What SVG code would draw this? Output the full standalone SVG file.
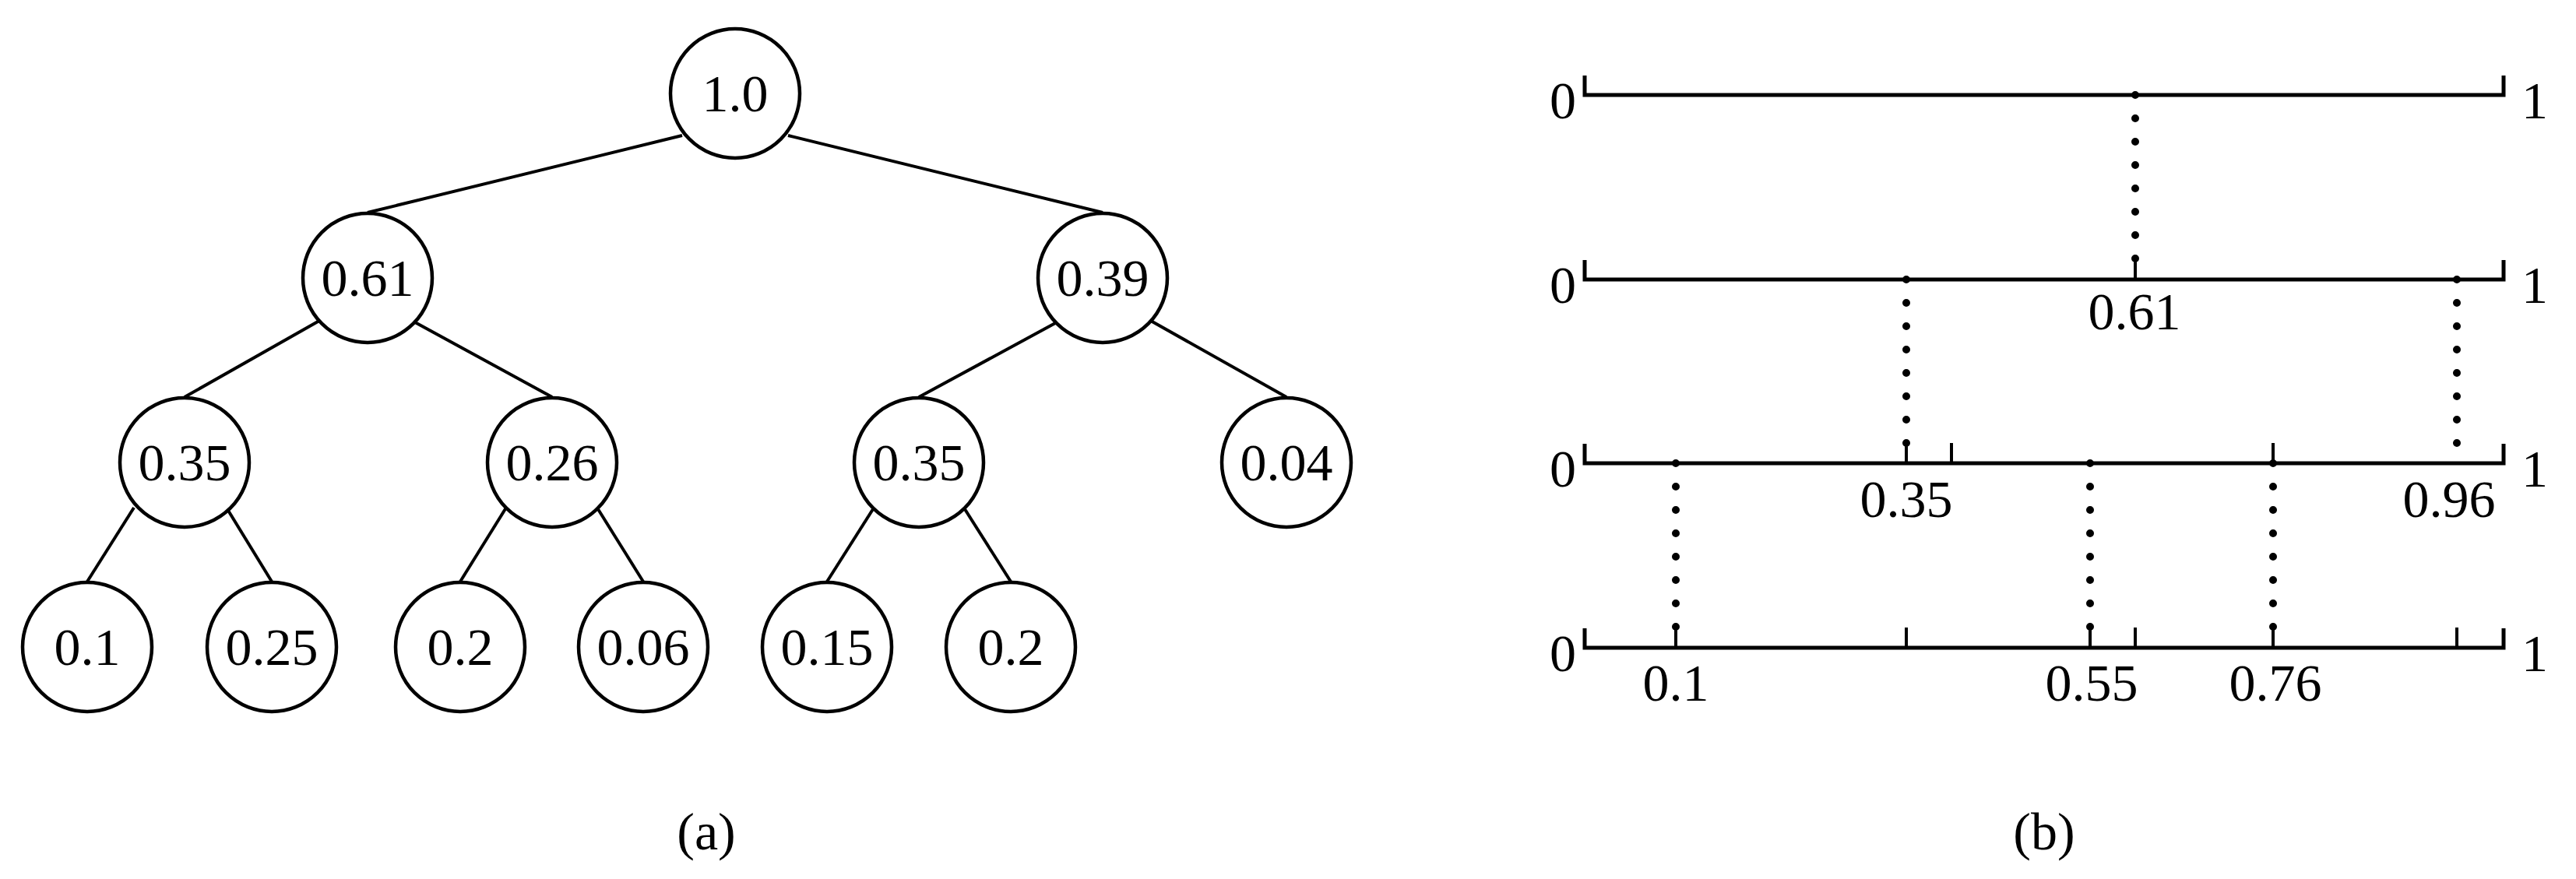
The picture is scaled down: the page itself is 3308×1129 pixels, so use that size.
<svg xmlns="http://www.w3.org/2000/svg" width="3308" height="1129" viewBox="0 0 3308 1129">
<style>
.nd circle{fill:#fff;stroke:#000;stroke-width:4.5}
text{font-family:"Liberation Serif","Times New Roman",serif;font-size:68px;fill:#000}
.nd text{text-anchor:middle}
.lbl{text-anchor:middle}
.edge{stroke:#000;stroke-width:4;fill:none}
.axis{stroke:#000;stroke-width:5;fill:none;stroke-linejoin:miter;stroke-linecap:butt}
.tick{stroke:#000;stroke-width:4}
.dots{stroke:#000;stroke-width:10;stroke-linecap:round;stroke-dasharray:0 30}
</style>
<rect width="3308" height="1129" fill="#fff"/>
<g id="connectors">
<line class="edge" x1="876" y1="174" x2="472" y2="273"/>
<line class="edge" x1="1012" y1="174" x2="1416" y2="273"/>
<line class="edge" x1="410" y1="412" x2="237" y2="510"/>
<line class="edge" x1="533" y1="414" x2="709" y2="510"/>
<line class="edge" x1="1357" y1="414" x2="1180" y2="510"/>
<line class="edge" x1="1476" y1="411" x2="1652" y2="510"/>
<line class="edge" x1="172" y1="652" x2="112" y2="747"/>
<line class="edge" x1="292" y1="654" x2="349" y2="747"/>
<line class="edge" x1="650" y1="652" x2="591" y2="747"/>
<line class="edge" x1="768" y1="654" x2="826" y2="747"/>
<line class="edge" x1="1121" y1="654" x2="1062" y2="747"/>
<line class="edge" x1="1239" y1="654" x2="1298" y2="747"/>
</g>
<g id="n1" class="nd"><circle cx="944" cy="120" r="83"/><text x="944" y="143">1.0</text></g>
<g id="n2" class="nd"><circle cx="472" cy="357" r="83"/><text x="472" y="380">0.61</text></g>
<g id="n3" class="nd"><circle cx="1416" cy="357" r="83"/><text x="1416" y="380">0.39</text></g>
<g id="n4" class="nd"><circle cx="237" cy="594" r="83"/><text x="237" y="617">0.35</text></g>
<g id="n5" class="nd"><circle cx="709" cy="594" r="83"/><text x="709" y="617">0.26</text></g>
<g id="n6" class="nd"><circle cx="1180" cy="594" r="83"/><text x="1180" y="617">0.35</text></g>
<g id="n7" class="nd"><circle cx="1652" cy="594" r="83"/><text x="1652" y="617">0.04</text></g>
<g id="n8" class="nd"><circle cx="112" cy="831" r="83"/><text x="112" y="854">0.1</text></g>
<g id="n9" class="nd"><circle cx="349" cy="831" r="83"/><text x="349" y="854">0.25</text></g>
<g id="n10" class="nd"><circle cx="591" cy="831" r="83"/><text x="591" y="854">0.2</text></g>
<g id="n11" class="nd"><circle cx="826" cy="831" r="83"/><text x="826" y="854">0.06</text></g>
<g id="n12" class="nd"><circle cx="1062" cy="831" r="83"/><text x="1062" y="854">0.15</text></g>
<g id="n13" class="nd"><circle cx="1298" cy="831" r="83"/><text x="1298" y="854">0.2</text></g>
<text class="lbl" x="907" y="1091">(a)</text>

<g id="intervals">
<path class="axis" d="M2035 97V122H3215V97"/>
<path class="axis" d="M2035 334V359H3215V334"/>
<path class="axis" d="M2035 570V595H3215V570"/>
<path class="axis" d="M2035 807V832H3215V807"/>
<text x="1990" y="152">0</text><text x="3238" y="152">1</text>
<text x="1990" y="389">0</text><text x="3238" y="389">1</text>
<text x="1990" y="625">0</text><text x="3238" y="625">1</text>
<text x="1990" y="862">0</text><text x="3238" y="862">1</text>
<!-- level 1 to 2 -->
<line class="dots" x1="2742" y1="122" x2="2742" y2="332.5"/>
<line class="tick" x1="2742" y1="332" x2="2742" y2="359"/>
<!-- level 2 to 3 -->
<line class="dots" x1="2448" y1="359" x2="2448" y2="569.5"/>
<line class="tick" x1="2448" y1="569" x2="2448" y2="595"/>
<line class="dots" x1="3155" y1="359" x2="3155" y2="569.5"/>
<line class="tick" x1="2506" y1="569" x2="2506" y2="595"/>
<line class="tick" x1="2919" y1="569" x2="2919" y2="595"/>
<!-- level 3 to 4 -->
<line class="dots" x1="2152" y1="595" x2="2152" y2="805.5"/>
<line class="tick" x1="2152" y1="805" x2="2152" y2="832"/>
<line class="dots" x1="2684" y1="595" x2="2684" y2="805.5"/>
<line class="tick" x1="2684" y1="805" x2="2684" y2="832"/>
<line class="dots" x1="2919" y1="595" x2="2919" y2="805.5"/>
<line class="tick" x1="2919" y1="805" x2="2919" y2="832"/>
<line class="tick" x1="2448" y1="806" x2="2448" y2="832"/>
<line class="tick" x1="2742" y1="806" x2="2742" y2="832"/>
<line class="tick" x1="3155" y1="806" x2="3155" y2="832"/>
<text class="lbl" x="2741" y="423">0.61</text>
<text class="lbl" x="2448" y="664">0.35</text>
<text class="lbl" x="3145" y="664">0.96</text>
<text class="lbl" x="2152" y="900">0.1</text>
<text class="lbl" x="2686" y="900">0.55</text>
<text class="lbl" x="2922" y="900">0.76</text>
</g>
<text class="lbl" x="2625" y="1091">(b)</text>
</svg>
